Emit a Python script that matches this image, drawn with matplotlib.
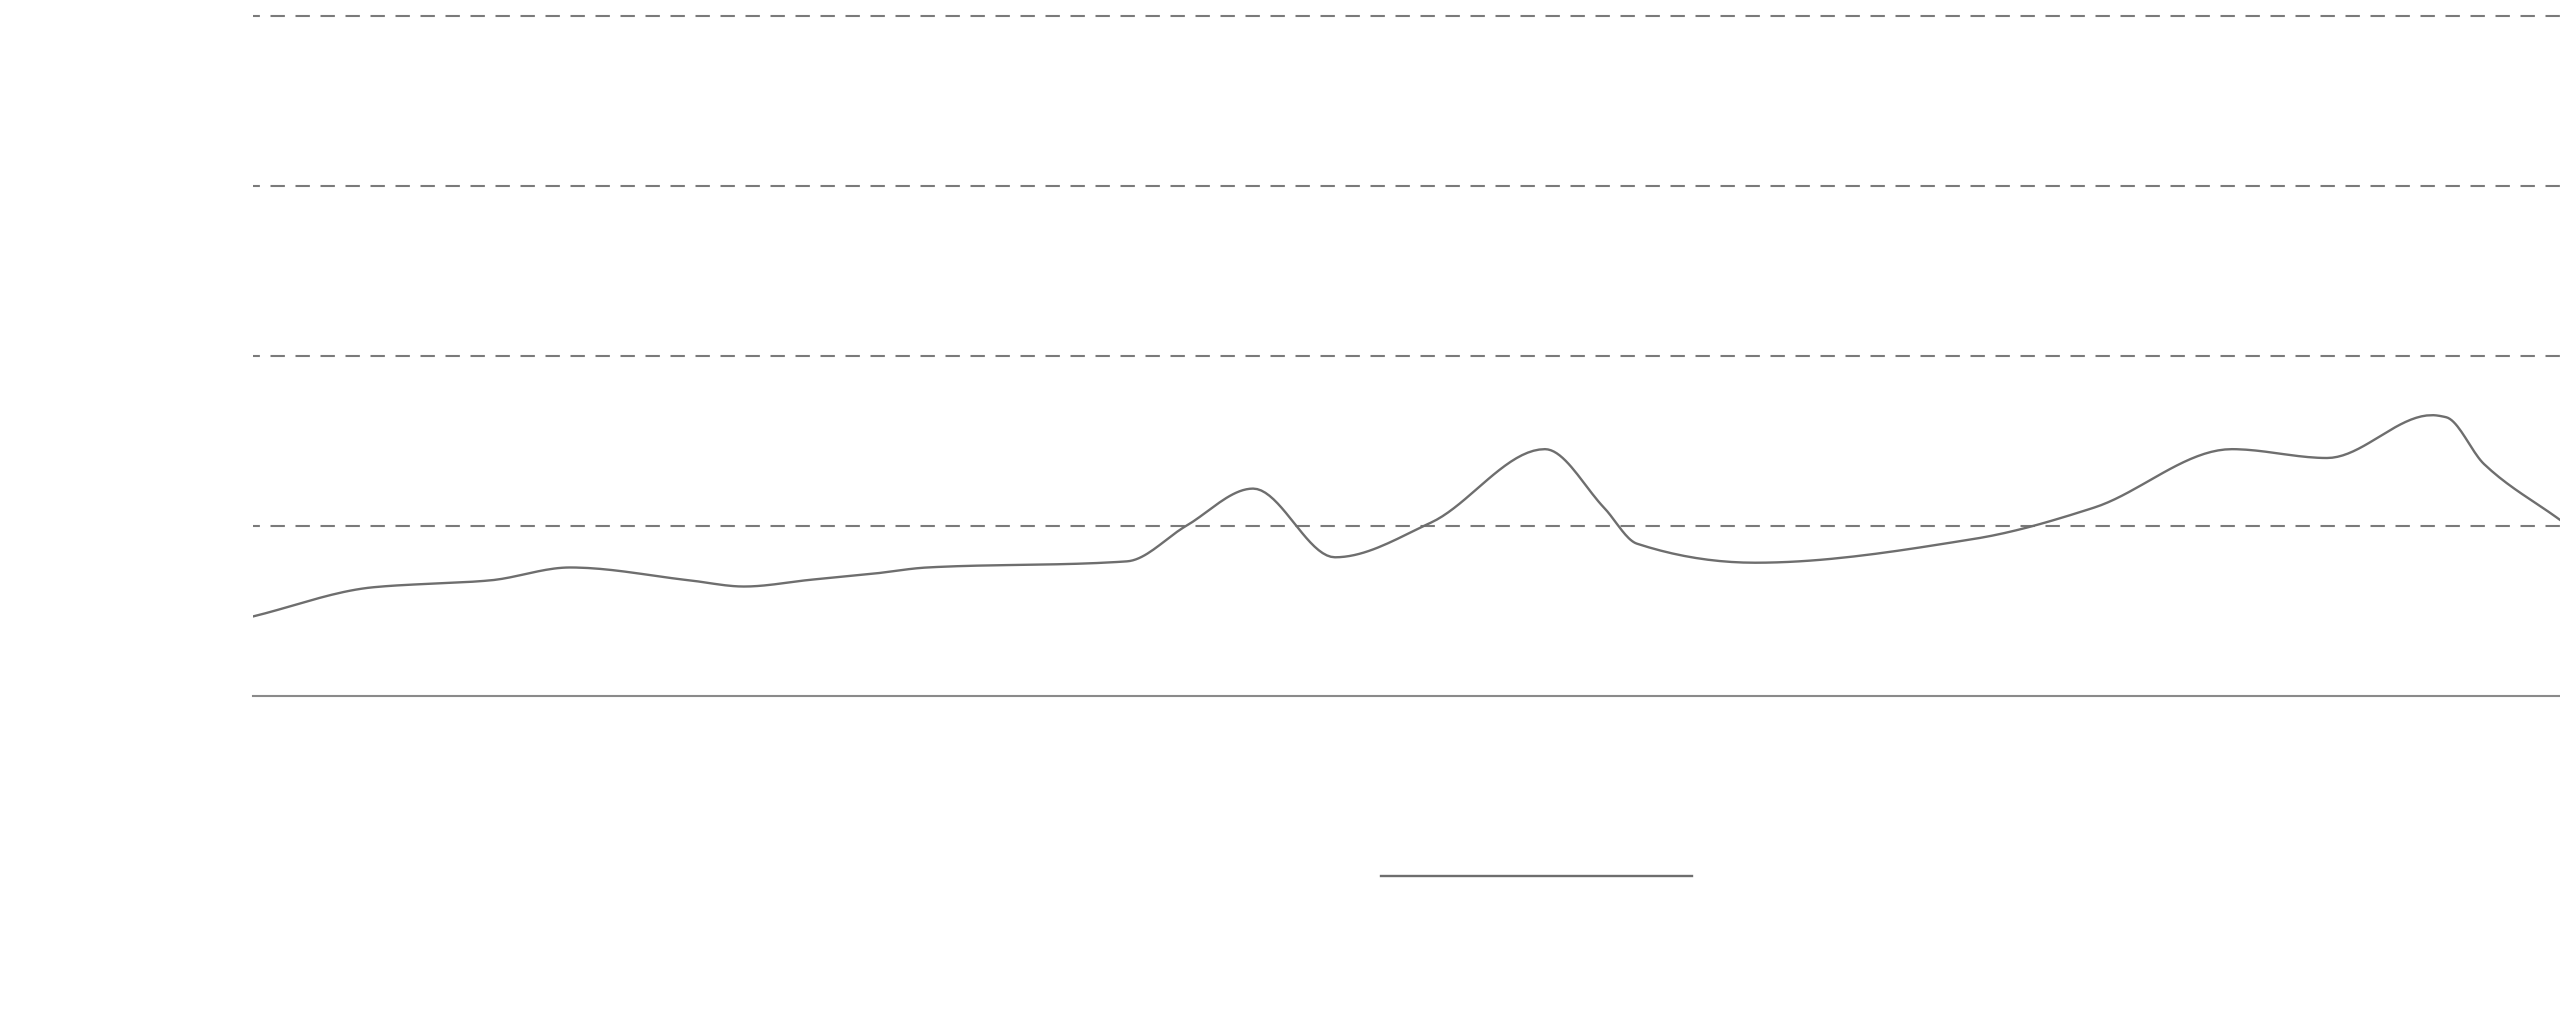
import numpy as np
import matplotlib
matplotlib.use("Agg")
from matplotlib import pyplot as plt

# values (x in 0-100 axis units, y on a 0-100 scale)
x_vals = [0, 5.24, 10.27, 13.74, 18.94, 21.28, 24.19, 26.92, 29.22, 37.88,
          40.44, 43.35, 46.90, 51.06, 56.00, 58.56, 59.99, 65.11, 74.60,
          79.80, 85.78, 89.90, 94.45, 95.06, 96.71, 100]
y_vals = [11.7, 16.0, 17.0, 18.9, 17.0, 16.1, 17.1, 18.0, 18.9, 19.8,
          25.0, 30.5, 20.4, 25.5, 36.3, 27.7, 22.4, 19.6, 23.1,
          27.7, 36.3, 35.0, 41.3, 41.0, 34.1, 25.9]
grid_levels = [25, 50, 75, 100]


def monotone_curve(x, y, n=20):
    # monotone cubic (Fritsch-Carlson) just for drawing the smooth path
    x = np.asarray(x, float)
    y = np.asarray(y, float)
    h = np.diff(x)
    d = np.diff(y) / h
    m = np.zeros_like(y)
    m[0], m[-1] = d[0], d[-1]
    for i in range(1, len(y) - 1):
        if d[i - 1] * d[i] <= 0:
            m[i] = 0
        else:
            w1 = 2 * h[i] + h[i - 1]
            w2 = h[i] + 2 * h[i - 1]
            m[i] = (w1 + w2) / (w1 / d[i - 1] + w2 / d[i])
    xs, ys = [], []
    for i in range(len(h)):
        t = np.linspace(0, 1, n, endpoint=False)
        h00 = 2 * t**3 - 3 * t**2 + 1
        h10 = t**3 - 2 * t**2 + t
        h01 = -2 * t**3 + 3 * t**2
        h11 = t**3 - t**2
        xs.extend(x[i] + t * h[i])
        ys.extend(h00 * y[i] + h10 * h[i] * m[i] + h01 * y[i + 1] + h11 * h[i] * m[i + 1])
    xs.append(x[-1])
    ys.append(y[-1])
    return np.array(xs), np.array(ys)


fig = plt.figure(figsize=(25.6, 10.22), dpi=100)
ax = fig.add_axes([253 / 2560, 1 - 696 / 1022, 1 - 253 / 2560, 680 / 1022])

for g in grid_levels:
    ax.axhline(g, color="#7a7a7a", lw=1.5, linestyle=(3.6, (6.9, 5.1)),
               clip_on=False, zorder=1)
ax.axhline(0, color="#8a8a8a", lw=1.5, clip_on=False, zorder=1)

sx, sy = monotone_curve(x_vals, y_vals)
line, = ax.plot(sx, sy, color="#6e6e6e", lw=1.7, zorder=3)

ax.set_xlim(0, 100)
ax.set_ylim(0, 100)
for s in ax.spines.values():
    s.set_visible(False)
ax.set_xticks([])
ax.set_yticks([])

fig.legend([line], [""], loc="center left", bbox_to_anchor=(1381 / 2560, 1 - 877 / 1022),
           frameon=False, handlelength=22.4, borderpad=0, borderaxespad=0,
           handletextpad=0, fontsize=10)

fig.savefig("out.png", dpi=100, facecolor="white")
